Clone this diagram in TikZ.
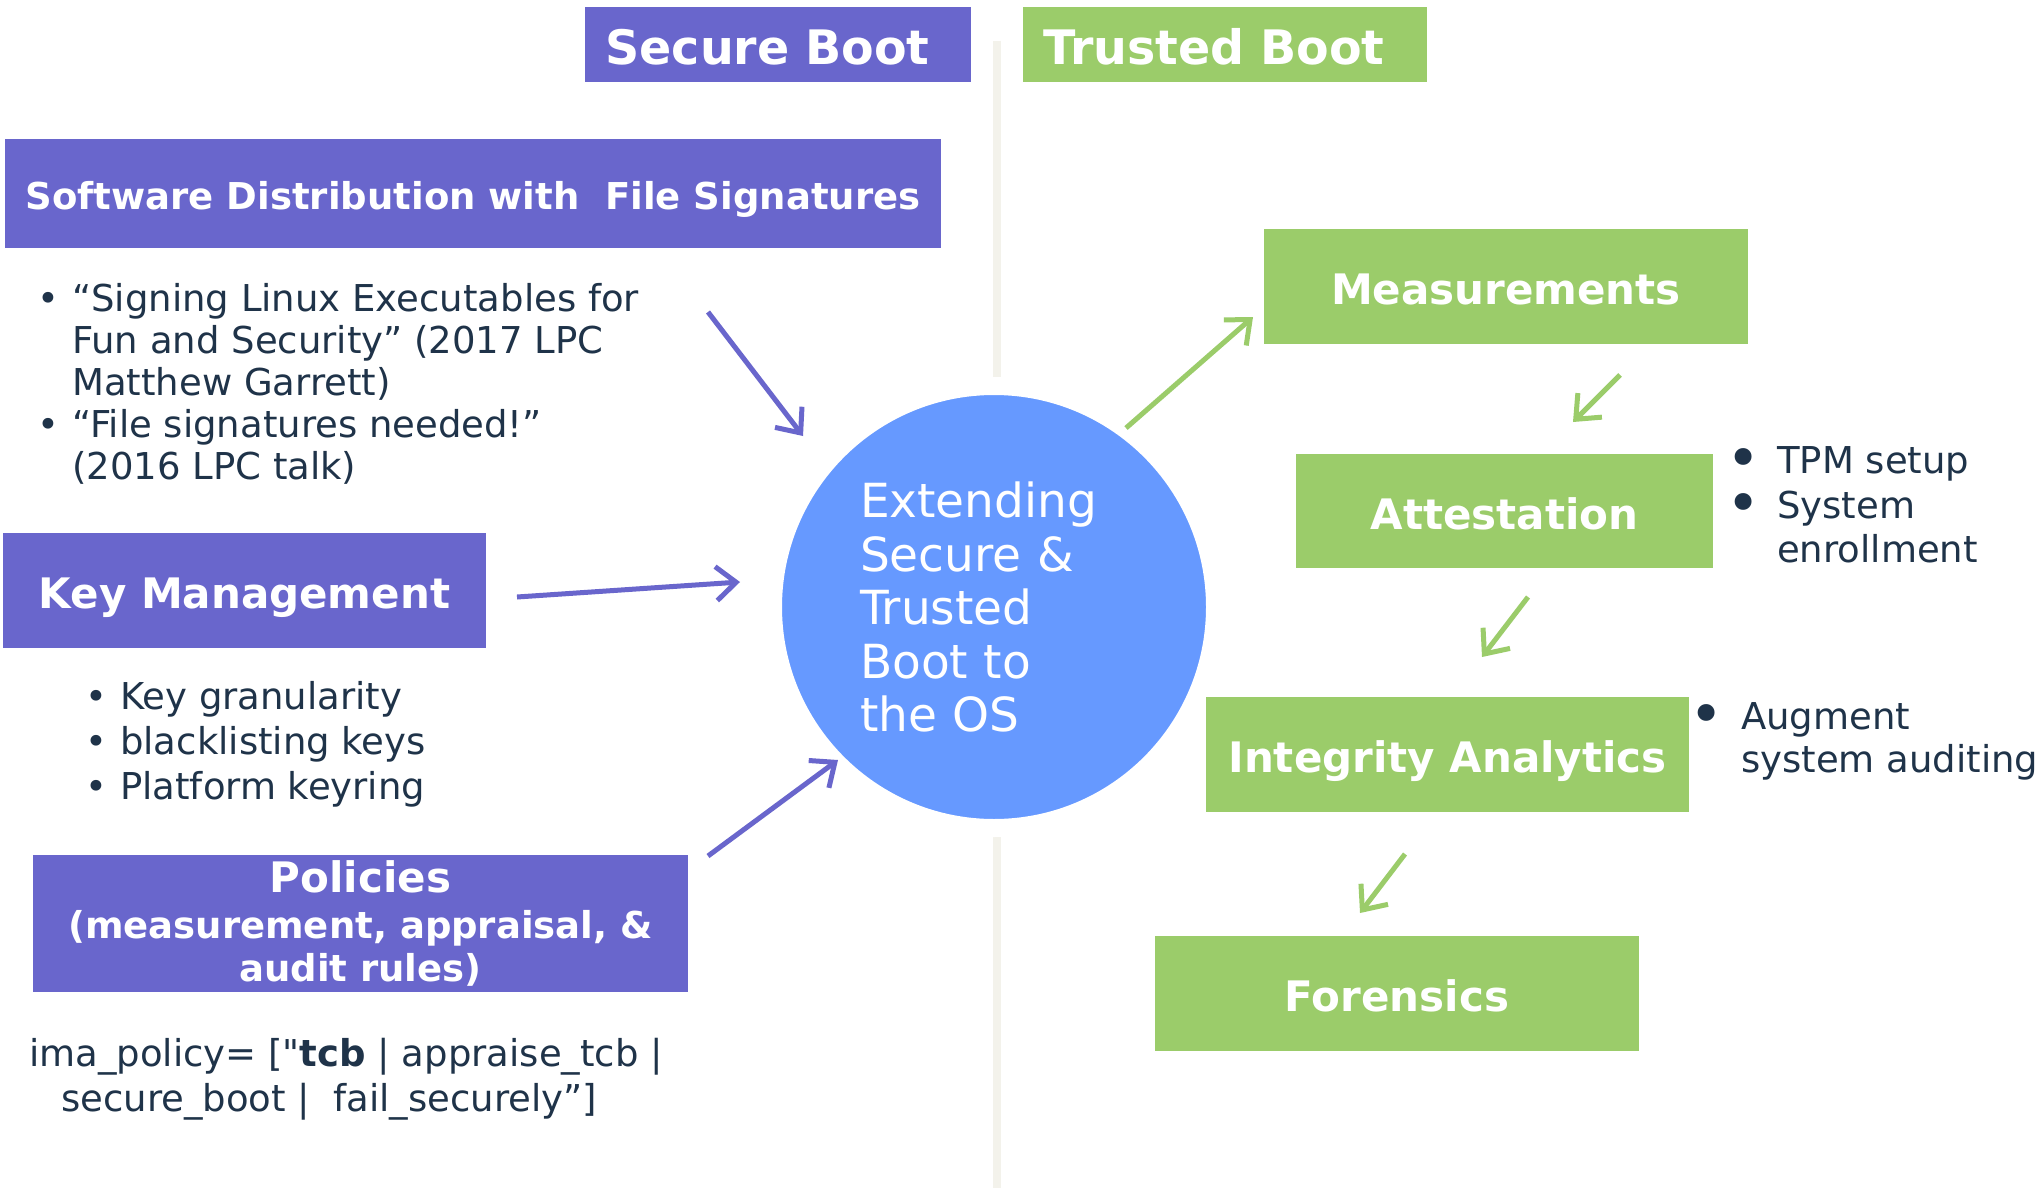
\documentclass[tikz,border=0pt]{standalone}
\usepackage{fontspec}
\setmainfont{DejaVu Sans}
\newfontfamily\plainfont{DejaVu Sans}
\usetikzlibrary{arrows.meta}
\definecolor{sbpurple}{RGB}{105,102,204}
\definecolor{tbgreen}{RGB}{155,204,106}
\definecolor{circblue}{RGB}{102,153,255}
\definecolor{darktext}{RGB}{31,51,73}
\definecolor{dividercol}{RGB}{243,242,235}
\newcommand{\myfs}[2]{\fontsize{#1pt}{#2pt}\selectfont}
\newcommand{\smbul}[1]{\makebox[#1][l]{•}}
\newcommand{\bigbul}[1]{\makebox[#1][l]{\raisebox{-5pt}[20pt][0pt]{\fontsize{58pt}{45pt}\selectfont •}}}
\tikzset{
  boxbase/.style={rectangle, inner sep=0pt, text=white},
  purplebox/.style={boxbase, fill=sbpurple},
  greenbox/.style={boxbase, fill=tbgreen},
  titlefont/.style={font=\myfs{47.5}{55}\bfseries, text height=40pt, text depth=0pt},
  headfont/.style={font=\myfs{42}{48}\bfseries, text height=36pt, text depth=0pt},
  bullettext/.style={align=left, inner sep=0pt, text=darktext, anchor=north west},
  arr/.style={line width=5pt, -{Straight Barb[length=20pt,width=34pt]}},
  purplearr/.style={arr, draw=sbpurple},
  greenarr/.style={arr, draw=tbgreen},
}
\begin{document}
\begin{tikzpicture}[x=1pt,y=-1pt]
\useasboundingbox[fill=white] (0,0) rectangle (2044,1188);

% divider
\coordinate (divtop) at (997,41);
\coordinate (divbot) at (997,1188);
\draw[dividercol, line width=8pt] (divtop) -- (divbot);

% titles
\node[purplebox, titlefont, minimum width=386pt, minimum height=75pt, text width=345pt, align=left] (sb) at (778,44.5) {Secure Boot};
\node[greenbox, titlefont, minimum width=404pt, minimum height=75pt, text width=364pt, align=left] (tb) at (1225,44.5) {Trusted Boot};

% left boxes
\node[purplebox, font=\myfs{37}{43}\bfseries, text height=32pt, text depth=0pt, minimum width=936pt, minimum height=109pt] (swd) at (473,193.5) {Software Distribution with~ File Signatures};
\node[purplebox, headfont, minimum width=483pt, minimum height=115pt] (km) at (244.5,590.5) {Key Management};
\node[purplebox, font=\myfs{37}{43}\bfseries, align=center, minimum width=655pt, minimum height=137pt] (pol) at (360.5,923) {{\myfs{42}{48}Policies}\\[3pt](measurement, appraisal, \&\\audit rules)};

% left texts
\node[bullettext, font=\myfs{37}{42}] (swlist) at (37,283) {\smbul{35pt}“Signing Linux Executables for\\\hspace*{35pt}Fun and Security” (2017 LPC\\\hspace*{35pt}Matthew Garrett)\\\smbul{35pt}“File signatures needed!”\\\hspace*{35pt}(2016 LPC talk)};
\node[bullettext, font=\myfs{37}{45}] (kmlist) at (85,681) {\smbul{35pt}Key granularity\\\smbul{35pt}blacklisting keys\\\smbul{35pt}Platform keyring};
\node[bullettext, font=\myfs{37}{45}] (ima) at (29,1038.5) {ima\_policy= [{\plainfont"}\textbf{tcb} | appraise\_tcb |\\\hspace*{32pt}secure\_boot |~ fail\_securely”]};

% center circle
\node[circle, fill=circblue, draw=white, line width=18pt, minimum size=442pt, inner sep=0pt, text width=268pt, align=left, text=white, font=\myfs{47}{53.5}] (core) at (994,607) {Extending\\Secure \&\\Trusted\\Boot to\\the OS};

% right boxes
\node[greenbox, headfont, minimum width=484pt, minimum height=115pt] (meas) at (1506,286.5) {Measurements};
\node[greenbox, headfont, minimum width=417pt, minimum height=114pt] (att) at (1504.5,511) {Attestation};
\node[greenbox, headfont, minimum width=483pt, minimum height=115pt] (ia) at (1447.5,754.5) {Integrity Analytics};
\node[greenbox, headfont, minimum width=484pt, minimum height=115pt] (for) at (1397,993.5) {Forensics};

% right texts
\node[bullettext, font=\myfs{37}{44.5}] (attlist) at (1726,446.5) {\bigbul{51pt}TPM setup\\\bigbul{51pt}System\\\hspace*{51pt}enrollment};
\node[bullettext, font=\myfs{37}{43}] (ialist) at (1689,702.5) {\bigbul{52pt}Augment\\\hspace*{52pt}system auditing};

% arrow endpoints
\coordinate (p1s) at (708,312);  \coordinate (p1e) at (803,436);
\coordinate (p2s) at (517,597);  \coordinate (p2e) at (740,582);
\coordinate (p3s) at (708,856);  \coordinate (p3e) at (838,760);
\coordinate (g1s) at (1126,428); \coordinate (g1e) at (1253,317);
\coordinate (g2s) at (1620,375); \coordinate (g2e) at (1573,422);
\coordinate (g3s) at (1528,597); \coordinate (g3e) at (1482,657);
\coordinate (g4s) at (1405,854); \coordinate (g4e) at (1360,913);

\draw[purplearr] (p1s) -- (p1e);
\draw[purplearr] (p2s) -- (p2e);
\draw[purplearr] (p3s) -- (p3e);
\draw[greenarr] (g1s) -- (g1e);
\draw[greenarr] (g2s) -- (g2e);
\draw[greenarr] (g3s) -- (g3e);
\draw[greenarr] (g4s) -- (g4e);
\end{tikzpicture}
\end{document}
